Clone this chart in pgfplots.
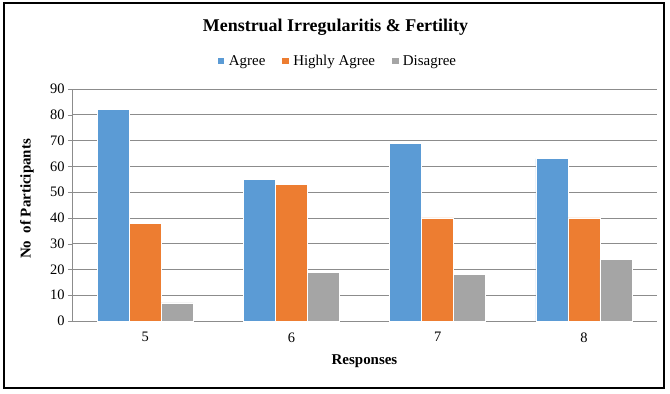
\documentclass[border=0pt]{standalone}
\usepackage{pgfplots}
\pgfplotsset{compat=1.18}
\usepackage{fontspec}
\setmainfont{Liberation Serif}
\definecolor{cA}{HTML}{5B9BD5}
\definecolor{cB}{HTML}{ED7D31}
\definecolor{cC}{HTML}{A5A5A5}
\definecolor{gridc}{HTML}{8C8C8C}
\begin{document}
\begin{tikzpicture}[x=1bp,y=1bp]
\useasboundingbox (-72,-72) rectangle (598,321);
\draw[line width=1.2bp] (-68,-67) rectangle (592,318);
\begin{axis}[
  at={(0,0)}, anchor=south west,
  scale only axis, width=585bp, height=232bp,
  ybar=0pt, bar width=32bp,
  ymin=0, ymax=90, ytick={0,10,...,90},
  xmin=-0.5, xmax=3.5,
  xtick={0,1,2,3}, xticklabels={5,6,7,8},
  extra x ticks={-0.5,0.5,1.5,2.5,3.5}, extra x tick labels={},
  extra x tick style={major tick length=5bp, tick style={gridc}, xticklabel=\empty, grid=none},
  major x tick style={draw=none},
  axis x line*=bottom, axis y line*=left,
  x axis line style={gridc, line width=0.8bp, -},
  y axis line style={gridc, line width=0.8bp, -},
  ytick style={gridc}, major tick length=4bp,
  tick align=outside,
  ymajorgrids, grid style={gridc, line width=0.6bp},
  /pgf/number format/assume math mode=true,
  ticklabel style={font=\fontsize{14.5}{16}\selectfont},
  xticklabel style={yshift=-4bp},
  xlabel={\textbf{Responses}}, ylabel={\textbf{No\ \ of Participants}},
  xlabel style={font=\fontsize{15}{17}\selectfont, at={(axis description cs:0.5,0)}, anchor=center, yshift=-40bp},
  ylabel style={font=\fontsize{15}{17}\selectfont, at={(axis description cs:0,0.5)}, anchor=center, yshift=45bp, xshift=6bp},
  legend style={at={(265.5bp,260bp)}, anchor=center, draw=none, legend columns=-1,
    font=\fontsize{15}{17}\selectfont, /tikz/every even column/.append style={column sep=14bp},
    /tikz/every odd column/.append style={column sep=2bp}},
  legend image code/.code={\fill[#1] (0bp,-3.5bp) rectangle (7.5bp,4bp);},
  every axis title shift=0pt,
  title={\textbf{Menstrual Irregularitis \& Fertility}},
  title style={font=\fontsize{18}{20}\selectfont, at={(263.5bp,294bp)}, anchor=center},
  clip=false,
]
\addplot[fill=cA, draw=white, line width=0.4bp] coordinates {(0,82) (1,55) (2,69) (3,63)};
\addplot[fill=cB, draw=white, line width=0.4bp] coordinates {(0,38) (1,53) (2,40) (3,40)};
\addplot[fill=cC, draw=white, line width=0.4bp] coordinates {(0,7) (1,19) (2,18) (3,24)};
\legend{Agree, Highly Agree, Disagree}
\end{axis}
\end{tikzpicture}
\end{document}
